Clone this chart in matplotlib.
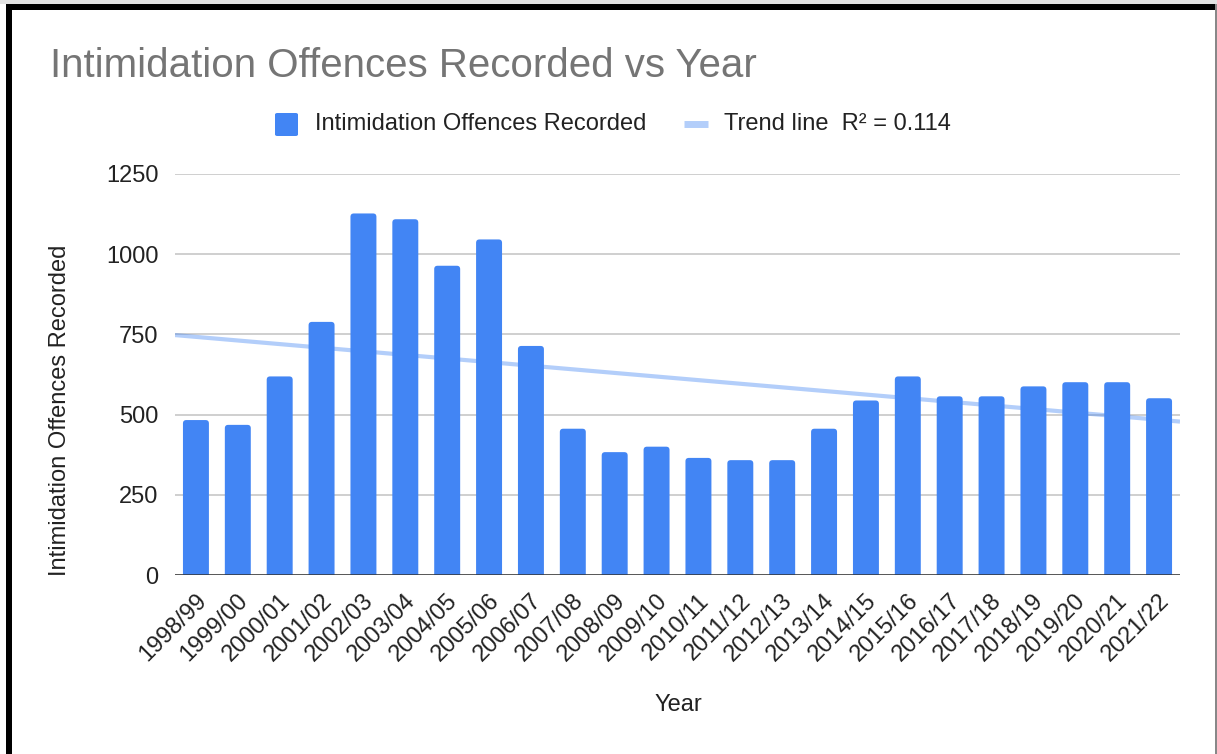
import numpy as np
import matplotlib
matplotlib.use("Agg")
import matplotlib.pyplot as plt
import matplotlib.transforms as mtransforms
from matplotlib.patches import Rectangle, FancyBboxPatch
from matplotlib.lines import Line2D

years = ["1998/99", "1999/00", "2000/01", "2001/02", "2002/03", "2003/04",
         "2004/05", "2005/06", "2006/07", "2007/08", "2008/09", "2009/10",
         "2010/11", "2011/12", "2012/13", "2013/14", "2014/15", "2015/16",
         "2016/17", "2017/18", "2018/19", "2019/20", "2020/21", "2021/22"]
offences = [483, 468, 619, 789, 1127, 1109, 964, 1046, 714, 456, 383, 400,
            365, 358, 358, 456, 544, 619, 557, 557, 588, 601, 601, 551]
y_ticks = [0, 250, 500, 750, 1000, 1250]

title = "Intimidation Offences Recorded vs Year"
series_name = "Intimidation Offences Recorded"
trend_label = "Trend line  R\u00b2 = 0.114"
x_label = "Year"

BAR = "#4285F4"
TREND = "#4285F4"
TXT = "#222222"
FS = 17
plt.rcParams["font.family"] = ["Liberation Sans", "DejaVu Sans"]

fig = plt.figure(figsize=(12.17, 7.54), dpi=100)
W, H = 1217, 754

def fx(px):
    return px / W

def fy(py):
    return 1 - py / H

ax = fig.add_axes([fx(175), fy(575), fx(1180) - fx(175), fy(174) - fy(575)])

x = np.arange(len(years))
bw = 0.62
ax.set_xlim(-0.5, len(years) - 0.5)
ax.set_ylim(0, 1250)

# bars with slightly rounded tops
bars = ax.bar(x, offences, width=bw, color=BAR, zorder=2)
for b in bars:
    b.set_visible(False)
    bx, by = b.get_x(), b.get_y()
    bwid, bh = b.get_width(), b.get_height()
    p = FancyBboxPatch((bx, by - 20), bwid, bh + 20,
                       boxstyle="round,pad=0,rounding_size=0.08",
                       mutation_aspect=130,
                       facecolor=BAR, edgecolor="none", zorder=2)
    p.set_clip_box(ax.bbox)
    ax.add_patch(p)

# linear trend line from data
coef = np.polyfit(x, offences, 1)
xt = np.array([-0.5, len(years) - 0.5])
ax.plot(xt, np.polyval(coef, xt), color=TREND, alpha=0.4, lw=3, zorder=3,
        solid_capstyle="butt")

# grid
ax.set_yticks(y_ticks)
ax.set_yticklabels([str(v) for v in y_ticks], fontsize=FS, color=TXT)
ax.yaxis.grid(True, color="#cccccc", lw=1.3, zorder=0)
ax.set_axisbelow(True)
ax.tick_params(axis="y", length=0, pad=12)
ax.axhline(0, color="#333333", lw=1.8, zorder=4)
for s in ax.spines.values():
    s.set_visible(False)

ax.set_xticks(x)
ax.set_xticklabels(years, rotation=45, ha="right", va="center",
                   rotation_mode="anchor", fontsize=FS, color=TXT)
ax.tick_params(axis="x", length=0, pad=16)
shift = mtransforms.ScaledTranslation(7 / 100, 0, fig.dpi_scale_trans)
for lab in ax.get_xticklabels():
    lab.set_transform(lab.get_transform() + shift)

fig.text(fx(678), fy(705), x_label, fontsize=FS, color=TXT,
         ha="center", va="center")
fig.text(fx(60), fy(410), series_name, fontsize=FS, color=TXT,
         rotation=90, ha="center", va="center")

fig.text(fx(50), fy(66), title, fontsize=29, color="#757575",
         ha="left", va="center")

# legend
fig.patches.append(FancyBboxPatch((fx(275), fy(136)), fx(23), fy(113) - fy(136),
                                  boxstyle="round,pad=0,rounding_size=0.002",
                                  transform=fig.transFigure,
                                  facecolor=BAR, edgecolor="none"))
fig.text(fx(315), fy(124), series_name, fontsize=FS, color=TXT,
         ha="left", va="center")
fig.lines.append(Line2D([fx(684), fx(708)], [fy(124), fy(124)],
                        transform=fig.transFigure, color=TREND, alpha=0.4,
                        lw=5, solid_capstyle="butt"))
fig.text(fx(724), fy(124), trend_label, fontsize=FS, color=TXT,
         ha="left", va="center")

# frame around chart
fig.patches.append(Rectangle((0, fy(4)), 1, fy(0) - fy(4),
                             transform=fig.transFigure, facecolor="#e3e3e3",
                             edgecolor="none"))
fig.patches.append(Rectangle((fx(6), fy(10)), fx(1216) - fx(6), fy(4) - fy(10),
                             transform=fig.transFigure, facecolor="black",
                             edgecolor="none"))
fig.patches.append(Rectangle((fx(6), 0), fx(6), fy(4),
                             transform=fig.transFigure, facecolor="black",
                             edgecolor="none"))
fig.patches.append(Rectangle((fx(1215), 0), fx(2), fy(4),
                             transform=fig.transFigure, facecolor="#888888",
                             edgecolor="none"))

fig.savefig("out.png", dpi=100)
